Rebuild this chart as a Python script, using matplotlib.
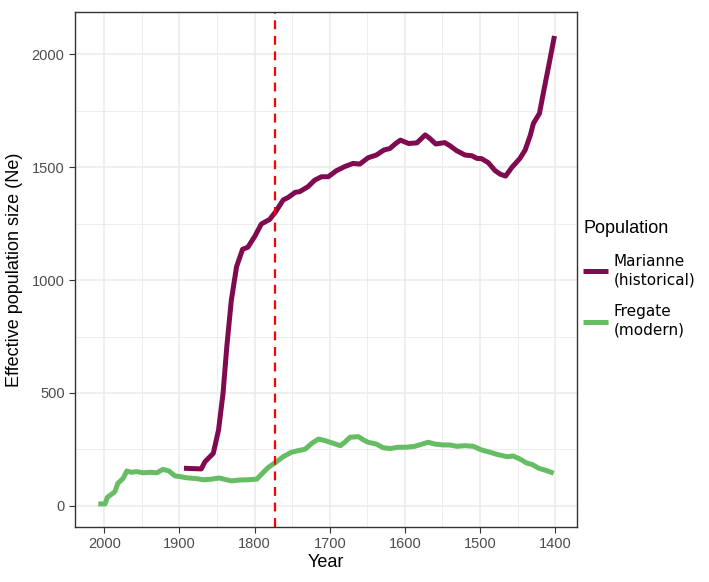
import matplotlib
matplotlib.use("Agg")
import matplotlib.pyplot as plt
from matplotlib.ticker import MultipleLocator

# Data
mar_year = [1894, 1871, 1866, 1855, 1848, 1842, 1837, 1831, 1824, 1816, 1809, 1800,
            1791, 1780, 1772, 1762, 1755, 1746, 1740, 1729, 1720, 1711, 1702, 1691,
            1680, 1669, 1660, 1649, 1638, 1628, 1620, 1613, 1606, 1595, 1584, 1573,
            1567, 1559, 1547, 1540, 1531, 1520, 1511, 1504, 1498, 1489, 1480, 1473,
            1466, 1458, 1447, 1440, 1433, 1429, 1421, 1415, 1408, 1401]
mar_ne = [167, 164, 196, 233, 336, 499, 705, 910, 1059, 1136, 1145, 1192,
          1248, 1268, 1302, 1354, 1366, 1388, 1391, 1413, 1442, 1457, 1457, 1484,
          1502, 1516, 1513, 1541, 1553, 1575, 1582, 1602, 1619, 1604, 1607, 1642,
          1627, 1602, 1608, 1594, 1572, 1553, 1550, 1538, 1537, 1519, 1484, 1468,
          1460, 1497, 1538, 1575, 1642, 1693, 1737, 1841, 1959, 2080]

fre_year = [2008, 1999, 1996, 1986, 1982, 1975, 1970, 1964, 1957, 1948, 1939, 1930,
            1922, 1914, 1906, 1899, 1891, 1877, 1868, 1857, 1847, 1840, 1831, 1820,
            1809, 1797, 1791, 1782, 1772, 1762, 1751, 1742, 1733, 1724, 1715, 1706,
            1695, 1686, 1680, 1673, 1662, 1655, 1649, 1638, 1629, 1620, 1609, 1598,
            1587, 1578, 1569, 1560, 1549, 1540, 1531, 1520, 1509, 1498, 1487, 1476,
            1464, 1456, 1447, 1438, 1431, 1422, 1411, 1402]
fre_ne = [9, 9, 38, 63, 100, 122, 155, 149, 152, 147, 149, 147,
          162, 155, 133, 130, 125, 121, 116, 119, 124, 118, 111, 115,
          116, 119, 140, 170, 193, 218, 238, 245, 251, 277, 296, 289,
          277, 267, 282, 304, 307, 292, 282, 274, 258, 254, 260, 260,
          264, 273, 282, 274, 270, 270, 264, 267, 264, 248, 238, 227,
          218, 221, 208, 190, 184, 167, 156, 145]

event_year = 1773
series_labels = ["Marianne\n(historical)", "Fregate\n(modern)"]
legend_title = "Population"

fig = plt.figure(figsize=(7.09, 5.82), dpi=100)
ax = fig.add_axes([75/709, 1-527/582, (577-75)/709, (527-12)/582])

grid_c = "#EBEBEB"
ax.set_xlim(2039, 1371)
ax.set_ylim(-93, 2186)
ax.xaxis.set_major_locator(MultipleLocator(100))
ax.xaxis.set_minor_locator(MultipleLocator(50))
ax.yaxis.set_major_locator(MultipleLocator(500))
ax.yaxis.set_minor_locator(MultipleLocator(250))
ax.grid(which="major", color=grid_c, linewidth=1.1)
ax.grid(which="minor", color=grid_c, linewidth=0.6)
ax.set_axisbelow(True)

l1, = ax.plot(mar_year, mar_ne, color="#7F0A4F", linewidth=3.6, solid_capstyle="butt",
              solid_joinstyle="round", label=series_labels[0])
l2, = ax.plot(fre_year, fre_ne, color="#66BD63", linewidth=3.6, solid_capstyle="butt",
              solid_joinstyle="round", label=series_labels[1])
ax.axvline(event_year, color="#FF0000", linestyle=(0, (4, 3)), linewidth=1.6)

for s in ax.spines.values():
    s.set_color("#333333")
    s.set_linewidth(1.0)
ax.tick_params(which="major", direction="out", length=4, color="#333333",
               labelcolor="#4D4D4D", labelsize=10.5)
ax.tick_params(which="minor", length=0)
for lab in ax.get_xticklabels() + ax.get_yticklabels():
    lab.set_family("Liberation Sans")

ax.set_xlabel("Year", fontsize=13, family="Liberation Sans", labelpad=2)
ax.set_ylabel("Effective population size (Ne)", fontsize=13, family="Liberation Sans", labelpad=6)

leg = ax.legend(handles=[l1, l2], title=legend_title, loc="center left",
                bbox_to_anchor=(0.985, 0.482), frameon=False, fontsize=11,
                title_fontsize=13, handlelength=1.65, handletextpad=0.35,
                labelspacing=1.1, alignment="left")
leg.get_title().set_family("Liberation Sans")
for t in leg.get_texts():
    t.set_family("DejaVu Sans")
    t.set_linespacing(1.3)

fig.savefig("out.png", dpi=100)
